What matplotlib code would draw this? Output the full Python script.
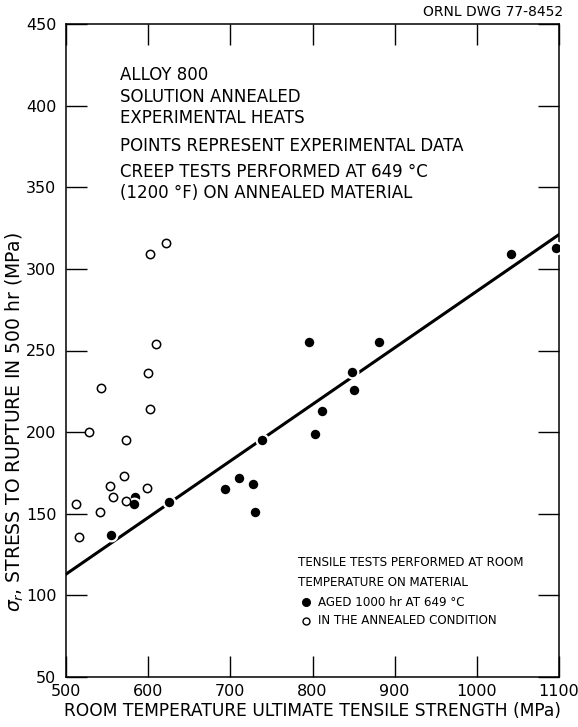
import matplotlib
matplotlib.use("Agg")
import matplotlib.pyplot as plt
import numpy as np

# Open circles: tensile tests in the annealed condition
annealed_uts = [600, 542, 602, 528, 573, 571, 554, 599, 512, 557, 573, 541, 516, 622, 602, 610]
annealed_stress = [236, 227, 214, 200, 195, 173, 167, 166, 156, 160, 158, 151, 136, 316, 309, 254]

# Filled circles: aged 1000 hr at 649 C
aged_uts = [584, 583, 555, 625, 694, 710, 728, 730, 739, 803, 811, 850, 796, 881, 848, 1041, 1096]
aged_stress = [160, 156, 137, 157, 165, 172, 168, 151, 195, 199, 213, 226, 255, 255, 237, 309, 313]

# Correlation line end points
line_uts = [500, 1100]
line_stress = [113, 321]

xticks = [500, 600, 700, 800, 900, 1000, 1100]
yticks = [50, 100, 150, 200, 250, 300, 350, 400, 450]

fig = plt.figure(figsize=(5.78, 7.27), dpi=100)
ax = fig.add_axes([66/578, 1-677/727, (559-66)/578, (677-24)/727])

ax.plot(line_uts, line_stress, color='black', lw=2.2, zorder=2)
ax.plot(aged_uts, aged_stress, 'o', ms=8.4, mfc='black', mec='white', mew=1.6, ls='none', zorder=3)
ax.plot(annealed_uts, annealed_stress, 'o', ms=6, mfc='white', mec='black', mew=1.1, ls='none', zorder=3)

ax.set_xlim(500, 1100)
ax.set_ylim(50, 450)
ax.set_xticks(xticks)
ax.set_yticks(yticks)
ax.tick_params(direction='in', length=15, width=1, top=True, right=True, labelsize=11.5)
ax.tick_params(axis='y', pad=7)
ax.tick_params(axis='x', pad=5)
for s in ax.spines.values():
    s.set_linewidth(1.1)

ax.set_xlabel('ROOM TEMPERATURE ULTIMATE TENSILE STRENGTH (MPa)', fontsize=12.3, labelpad=2)
fig.text(0.026, 0.42, r'$\sigma_r$, STRESS TO RUPTURE IN 500 hr (MPa)', rotation=90,
         fontsize=13.5, ha='center', va='center')
fig.text(0.975, 0.983, 'ORNL DWG 77-8452', fontsize=10, ha='right', va='center')

def ft(px, py, s, size):
    fig.text(px/578, 1-py/727, s, fontsize=size, ha='left', va='center')

ft(120, 75, 'ALLOY 800', 12)
ft(120, 97, 'SOLUTION ANNEALED', 12)
ft(120, 118, 'EXPERIMENTAL HEATS', 12)
ft(120, 146, 'POINTS REPRESENT EXPERIMENTAL DATA', 12)
ft(120, 172, 'CREEP TESTS PERFORMED AT 649 °C', 12)
ft(120, 193, '(1200 °F) ON ANNEALED MATERIAL', 12)

ft(298, 563, 'TENSILE TESTS PERFORMED AT ROOM', 8.6)
ft(298, 583, 'TEMPERATURE ON MATERIAL', 8.6)
ft(318, 602, 'AGED 1000 hr AT 649 °C', 8.6)
ft(318, 621, 'IN THE ANNEALED CONDITION', 8.6)
fig.lines.append(plt.Line2D([306/578], [1-602/727], marker='o', ms=5.5, mfc='black', mec='black',
                            transform=fig.transFigure, ls='none'))
fig.lines.append(plt.Line2D([306/578], [1-621/727], marker='o', ms=5, mfc='white', mec='black', mew=1.0,
                            transform=fig.transFigure, ls='none'))

fig.savefig('out.png', dpi=100)
